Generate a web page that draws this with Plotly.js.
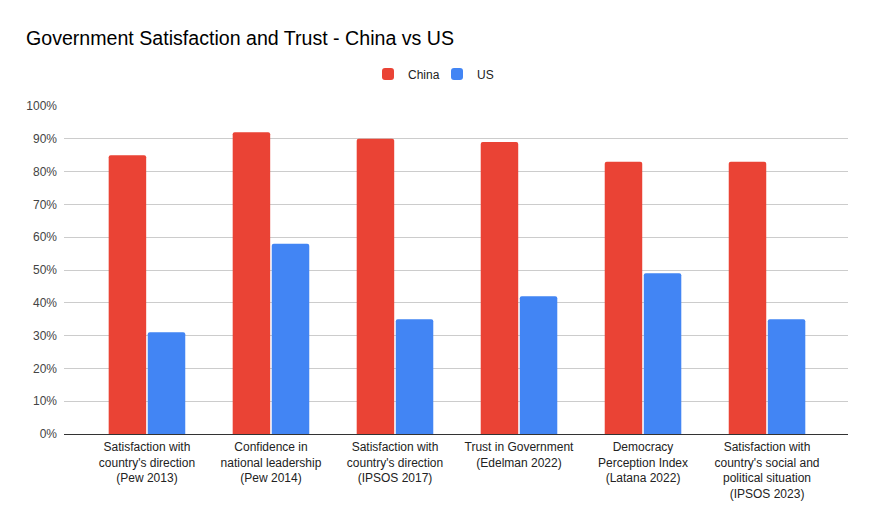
<!DOCTYPE html>
<html>
<head>
<meta charset="utf-8">
<script src="https://cdn.plot.ly/plotly-3.0.1.min.js"></script>
<style>html,body{margin:0;padding:0;background:#fff;}#chart{width:874px;height:523px;}</style>
</head>
<body>
<div id="chart"></div>
<script>
const categories = [
  "Satisfaction with<br>country's direction<br>(Pew 2013)",
  "Confidence in<br>national leadership<br>(Pew 2014)",
  "Satisfaction with<br>country's direction<br>(IPSOS 2017)",
  "Trust in Government<br>(Edelman 2022)",
  "Democracy<br>Perception Index<br>(Latana 2022)",
  "Satisfaction with<br>country's social and<br>political situation<br>(IPSOS 2023)"
];
const china = [0.85, 0.92, 0.90, 0.89, 0.83, 0.83];
const us = [0.31, 0.58, 0.35, 0.42, 0.49, 0.35];
const seriesNames = ["China", "US"];
const tickVals = [0, 0.1, 0.2, 0.3, 0.4, 0.5, 0.6, 0.7, 0.8, 0.9, 1.0];
const tickText = ["0%", "10%", "20%", "30%", "40%", "50%", "60%", "70%", "80%", "90%", "100%"];

const idx = categories.map((c, i) => i);
const traces = [
  {type: "bar", name: seriesNames[0], x: idx, y: china, marker: {color: "#EA4335", cornerradius: 2}, hoverinfo: "y"},
  {type: "bar", name: seriesNames[1], x: idx, y: us, marker: {color: "#4285F4", cornerradius: 2}, hoverinfo: "y"}
];
const layout = {
  width: 874, height: 523,
  margin: {l: 64, r: 26, t: 106, b: 89},
  paper_bgcolor: "#fff", plot_bgcolor: "#fff",
  font: {family: "Arial, 'Liberation Sans', sans-serif", size: 12, color: "#444"},
  title: {text: "Government Satisfaction and Trust - China vs US", x: 26/874, xref: "container", xanchor: "left", y: 1 - 38/523, yref: "container", yanchor: "middle",
          font: {family: "Arial, 'Liberation Sans', sans-serif", size: 19.6, color: "#000"}, pad: {l: 0, t: 0, b: 0, r: 0}},
  showlegend: true,
  legend: {orientation: "h", xref: "container", x: 0.5, xanchor: "center", yref: "container", y: 1 - 74/523, yanchor: "middle",
           itemwidth: 30, entrywidth: 24, font: {size: 12, color: "#222"}, traceorder: "normal"},
  barmode: "group", bargap: 0.37, bargroupgap: 0.04,
  xaxis: {
    range: [-0.669, 5.653], tickvals: idx, ticktext: categories, tickangle: 0,
    showgrid: false, zeroline: false, showline: false, ticks: "",
    ticklabelstandoff: 4,
    tickfont: {size: 12, color: "#222"}, fixedrange: true
  },
  yaxis: {
    range: [0, 1.0], tickvals: tickVals, ticktext: tickText,
    showgrid: true, gridcolor: "#cccccc", gridwidth: 1,
    zeroline: true, zerolinecolor: "#333", zerolinewidth: 1,
    ticks: "", ticklen: 0, ticklabelstandoff: 6,
    tickfont: {size: 12, color: "#444"}, fixedrange: true, automargin: false
  }
};
Plotly.newPlot("chart", traces, layout, {displayModeBar: false, staticPlot: true});
</script>
</body>
</html>
